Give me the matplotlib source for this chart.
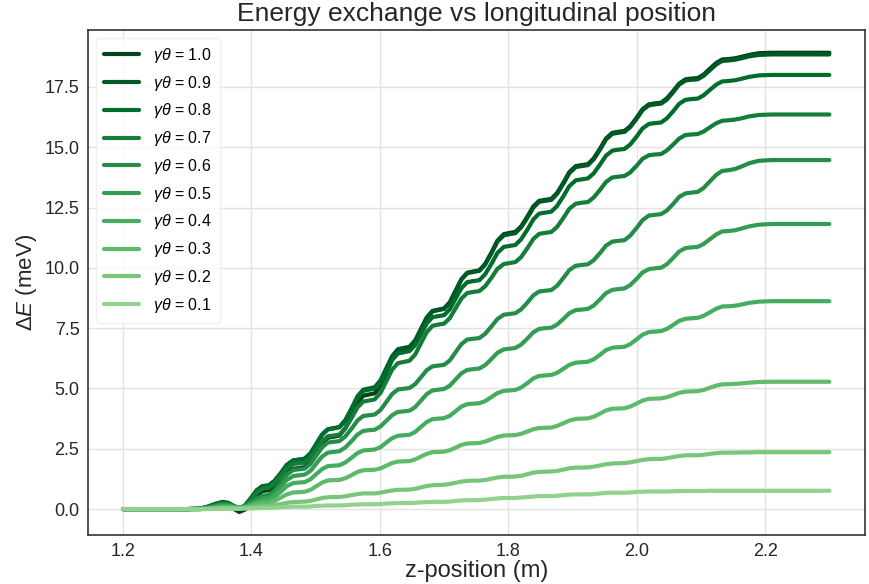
import numpy as np
import matplotlib
matplotlib.use("Agg")
from matplotlib import pyplot as plt

# longitudinal positions (m), shared by every curve
z = [1.200, 1.250, 1.300, 1.320, 1.332, 1.344, 1.355, 1.364, 1.373, 1.381, 1.390, 1.399, 1.408, 1.417,
     1.427, 1.436, 1.446, 1.455, 1.465, 1.474,
     1.483, 1.492, 1.501, 1.510, 1.519, 1.528,
     1.537, 1.546, 1.556, 1.565, 1.574, 1.583,
     1.592, 1.601, 1.610, 1.619, 1.628, 1.637,
     1.646, 1.655, 1.664, 1.673, 1.682, 1.691,
     1.700, 1.709, 1.718, 1.727, 1.736, 1.745,
     1.755, 1.764, 1.774, 1.783, 1.793, 1.802,
     1.811, 1.820, 1.830, 1.839, 1.848, 1.857,
     1.867, 1.876, 1.886, 1.895, 1.905, 1.914,
     1.924, 1.933, 1.943, 1.952, 1.962, 1.971,
     1.981, 1.990, 2.000, 2.009, 2.019, 2.028,
     2.038, 2.047, 2.057, 2.066, 2.076, 2.085,
     2.095, 2.104, 2.114, 2.124, 2.133, 2.143,
     2.153, 2.163, 2.175, 2.190, 2.210, 2.250, 2.300]

# energy exchange (meV) for each gamma*theta
dE_10 = [0, 0, 0, 0.0, 0.06, 0.16, 0.22, 0.17, 0.0, -0.12, -0.02, 0.25, 0.55, 0.75,
         0.78, 0.94, 1.23, 1.51, 1.67, 1.7,
         1.74, 1.96, 2.35, 2.74, 2.96, 3.0,
         3.05, 3.35, 3.88, 4.4, 4.70, 4.75,
         4.80, 5.11, 5.65, 6.19, 6.50, 6.55,
         6.60, 6.89, 7.40, 7.91, 8.20, 8.25,
         8.30, 8.57, 9.05, 9.53, 9.80, 9.85,
         9.90, 10.17, 10.65, 11.13, 11.40, 11.45,
         11.49, 11.72, 12.14, 12.55, 12.78, 12.82,
         12.86, 13.11, 13.54, 13.97, 14.22, 14.26,
         14.30, 14.54, 14.95, 15.36, 15.60, 15.64,
         15.68, 15.88, 16.23, 16.58, 16.78, 16.82,
         16.85, 17.03, 17.34, 17.64, 17.82, 17.85,
         17.87, 18.01, 18.26, 18.5, 18.64, 18.66,
         18.69, 18.75, 18.83, 18.9, 18.92, 18.92, 18.92]

dE_09 = [0, 0, 0, 0.02, 0.1, 0.22, 0.3, 0.26, 0.12, 0.0, 0.15, 0.45, 0.78, 0.95,
         0.98, 1.17, 1.5, 1.83, 2.02, 2.05,
         2.09, 2.31, 2.7, 3.09, 3.31, 3.35,
         3.4, 3.68, 4.18, 4.67, 4.95, 5.0,
         5.05, 5.34, 5.84, 6.34, 6.63, 6.68,
         6.73, 7.0, 7.48, 7.95, 8.22, 8.27,
         8.32, 8.58, 9.05, 9.52, 9.78, 9.83,
         9.88, 10.14, 10.62, 11.09, 11.35, 11.4,
         11.44, 11.68, 12.09, 12.5, 12.74, 12.78,
         12.82, 13.07, 13.5, 13.93, 14.18, 14.22,
         14.26, 14.5, 14.91, 15.32, 15.56, 15.6,
         15.64, 15.84, 16.19, 16.54, 16.74, 16.78,
         16.81, 16.98, 17.29, 17.6, 17.77, 17.8,
         17.82, 17.96, 18.2, 18.44, 18.58, 18.6,
         18.63, 18.69, 18.77, 18.83, 18.85, 18.85, 18.85]

dE_08 = [0, 0, 0, 0.02, 0.1, 0.21, 0.28, 0.24, 0.12, 0.02, 0.15, 0.45, 0.77, 0.95,
         0.98, 1.17, 1.5, 1.83, 2.02, 2.05,
         2.09, 2.31, 2.7, 3.09, 3.31, 3.35,
         3.4, 3.67, 4.15, 4.63, 4.9, 4.95,
         5.0, 5.26, 5.73, 6.19, 6.45, 6.5,
         6.55, 6.8, 7.25, 7.7, 7.96, 8.0,
         8.04, 8.29, 8.73, 9.16, 9.41, 9.45,
         9.49, 9.74, 10.18, 10.62, 10.87, 10.91,
         10.95, 11.19, 11.6, 12.01, 12.25, 12.29,
         12.33, 12.57, 12.98, 13.39, 13.63, 13.67,
         13.71, 13.92, 14.29, 14.65, 14.86, 14.9,
         14.93, 15.12, 15.45, 15.78, 15.97, 16.0,
         16.03, 16.2, 16.5, 16.8, 16.97, 17.0,
         17.02, 17.15, 17.38, 17.6, 17.73, 17.75,
         17.78, 17.84, 17.92, 17.98, 18.0, 18.0, 18.0]

dE_07 = [0, 0, 0, 0.02, 0.08, 0.18, 0.24, 0.21, 0.12, 0.04, 0.14, 0.4, 0.68, 0.85,
         0.88, 1.06, 1.38, 1.69, 1.87, 1.9,
         1.93, 2.13, 2.48, 2.82, 3.02, 3.05,
         3.09, 3.34, 3.78, 4.21, 4.46, 4.5,
         4.55, 4.82, 5.3, 5.78, 6.05, 6.1,
         6.15, 6.41, 6.88, 7.34, 7.6, 7.65,
         7.69, 7.92, 8.33, 8.73, 8.96, 9.0,
         9.04, 9.24, 9.6, 9.96, 10.16, 10.2,
         10.24, 10.45, 10.83, 11.2, 11.41, 11.45,
         11.49, 11.7, 12.08, 12.45, 12.66, 12.7,
         12.73, 12.92, 13.24, 13.56, 13.75, 13.78,
         13.81, 13.96, 14.24, 14.52, 14.67, 14.7,
         14.72, 14.87, 15.12, 15.36, 15.51, 15.53,
         15.55, 15.65, 15.83, 16.0, 16.1, 16.12,
         16.15, 16.2, 16.28, 16.34, 16.36, 16.36, 16.36]

dE_06 = [0, 0, 0, 0.01, 0.06, 0.14, 0.2, 0.18, 0.11, 0.05, 0.12, 0.28, 0.44, 0.55,
         0.58, 0.77, 1.1, 1.43, 1.62, 1.65,
         1.68, 1.88, 2.22, 2.56, 2.76, 2.79,
         2.82, 3.01, 3.34, 3.67, 3.86, 3.89,
         3.92, 4.11, 4.44, 4.77, 4.96, 4.99,
         5.02, 5.18, 5.47, 5.76, 5.92, 5.95,
         5.98, 6.17, 6.51, 6.84, 7.03, 7.06,
         7.09, 7.27, 7.58, 7.88, 8.06, 8.09,
         8.12, 8.28, 8.57, 8.86, 9.02, 9.05,
         9.08, 9.26, 9.59, 9.91, 10.09, 10.12,
         10.15, 10.32, 10.62, 10.92, 11.09, 11.12,
         11.15, 11.34, 11.66, 11.98, 12.17, 12.2,
         12.23, 12.38, 12.66, 12.94, 13.09, 13.12,
         13.15, 13.31, 13.59, 13.86, 14.02, 14.05,
         14.1, 14.2, 14.34, 14.44, 14.47, 14.47, 14.47]

dE_05 = [0, 0, 0, 0.01, 0.05, 0.11, 0.16, 0.15, 0.1, 0.05, 0.1, 0.22, 0.35, 0.45,
         0.48, 0.64, 0.93, 1.21, 1.37, 1.4,
         1.43, 1.59, 1.89, 2.18, 2.34, 2.37,
         2.4, 2.55, 2.82, 3.09, 3.24, 3.27,
         3.29, 3.43, 3.66, 3.89, 4.03, 4.05,
         4.08, 4.23, 4.5, 4.77, 4.92, 4.95,
         4.98, 5.12, 5.38, 5.63, 5.77, 5.8,
         5.83, 5.97, 6.23, 6.48, 6.62, 6.65,
         6.68, 6.82, 7.08, 7.33, 7.47, 7.5,
         7.52, 7.65, 7.89, 8.12, 8.25, 8.27,
         8.3, 8.44, 8.7, 8.95, 9.09, 9.12,
         9.15, 9.29, 9.55, 9.81, 9.95, 9.98,
         10.01, 10.15, 10.42, 10.68, 10.82, 10.85,
         10.87, 10.99, 11.19, 11.39, 11.51, 11.53,
         11.56, 11.63, 11.72, 11.79, 11.82, 11.82, 11.82]

dE_04 = [0, 0, 0, 0.01, 0.04, 0.08, 0.12, 0.11, 0.08, 0.05, 0.09, 0.17, 0.27, 0.35,
         0.37, 0.5, 0.73, 0.95, 1.08, 1.1,
         1.12, 1.24, 1.45, 1.66, 1.78, 1.8,
         1.82, 1.93, 2.13, 2.32, 2.43, 2.45,
         2.47, 2.57, 2.76, 2.94, 3.04, 3.06,
         3.08, 3.2, 3.41, 3.61, 3.73, 3.75,
         3.77, 3.87, 4.06, 4.25, 4.35, 4.37,
         4.39, 4.48, 4.65, 4.81, 4.9, 4.92,
         4.94, 5.04, 5.23, 5.42, 5.52, 5.54,
         5.56, 5.65, 5.82, 5.98, 6.07, 6.09,
         6.11, 6.21, 6.4, 6.59, 6.69, 6.71,
         6.73, 6.84, 7.04, 7.23, 7.34, 7.36,
         7.38, 7.47, 7.64, 7.8, 7.89, 7.91,
         7.93, 8.01, 8.16, 8.31, 8.4, 8.41,
         8.43, 8.48, 8.55, 8.6, 8.62, 8.62, 8.62]

dE_03 = [0, 0, 0, 0.0, 0.02, 0.05, 0.08, 0.08, 0.06, 0.04, 0.07, 0.12, 0.19, 0.25,
         0.26, 0.34, 0.48, 0.61, 0.69, 0.7,
         0.72, 0.8, 0.95, 1.1, 1.19, 1.2,
         1.21, 1.28, 1.41, 1.54, 1.61, 1.62,
         1.63, 1.69, 1.8, 1.91, 1.97, 1.98,
         1.99, 2.06, 2.18, 2.29, 2.36, 2.37,
         2.38, 2.44, 2.55, 2.66, 2.72, 2.73,
         2.74, 2.8, 2.9, 2.99, 3.05, 3.06,
         3.07, 3.12, 3.22, 3.31, 3.36, 3.37,
         3.38, 3.45, 3.56, 3.67, 3.74, 3.75,
         3.76, 3.83, 3.96, 4.09, 4.16, 4.17,
         4.18, 4.25, 4.38, 4.5, 4.57, 4.58,
         4.59, 4.64, 4.73, 4.82, 4.87, 4.88,
         4.89, 4.94, 5.03, 5.12, 5.17, 5.18,
         5.19, 5.21, 5.24, 5.27, 5.28, 5.28, 5.28]

dE_02 = [0, 0, 0, 0.0, 0.01, 0.02, 0.04, 0.04, 0.04, 0.03, 0.05, 0.07, 0.1, 0.12,
         0.13, 0.16, 0.21, 0.26, 0.29, 0.3,
         0.31, 0.34, 0.4, 0.46, 0.49, 0.5,
         0.5, 0.53, 0.58, 0.62, 0.65, 0.65,
         0.65, 0.68, 0.73, 0.77, 0.8, 0.8,
         0.81, 0.84, 0.9, 0.96, 0.99, 1.0,
         1.01, 1.04, 1.09, 1.14, 1.17, 1.18,
         1.18, 1.21, 1.26, 1.31, 1.34, 1.34,
         1.35, 1.38, 1.45, 1.51, 1.54, 1.55,
         1.56, 1.58, 1.64, 1.69, 1.72, 1.72,
         1.73, 1.76, 1.81, 1.86, 1.89, 1.9,
         1.91, 1.94, 1.99, 2.04, 2.07, 2.08,
         2.08, 2.11, 2.16, 2.2, 2.23, 2.23,
         2.23, 2.25, 2.29, 2.32, 2.34, 2.34,
         2.34, 2.35, 2.35, 2.36, 2.36, 2.36, 2.36]

dE_01 = [0, 0, 0, 0, 0.0, 0.01, 0.01, 0.01, 0.01, 0.01, 0.02, 0.03, 0.04, 0.05,
         0.05, 0.06, 0.08, 0.09, 0.1, 0.1,
         0.1, 0.11, 0.13, 0.14, 0.15, 0.15,
         0.15, 0.16, 0.18, 0.19, 0.2, 0.2,
         0.2, 0.21, 0.23, 0.24, 0.25, 0.25,
         0.25, 0.26, 0.28, 0.29, 0.3, 0.3,
         0.3, 0.31, 0.34, 0.36, 0.37, 0.37,
         0.37, 0.39, 0.42, 0.44, 0.46, 0.46,
         0.46, 0.48, 0.5, 0.52, 0.54, 0.54,
         0.54, 0.55, 0.58, 0.6, 0.61, 0.61,
         0.61, 0.62, 0.65, 0.67, 0.68, 0.68,
         0.68, 0.69, 0.71, 0.72, 0.73, 0.73,
         0.73, 0.73, 0.74, 0.75, 0.75, 0.75,
         0.75, 0.75, 0.76, 0.76, 0.76, 0.76,
         0.76, 0.76, 0.76, 0.76, 0.76, 0.76, 0.76]

gamma_theta = [1.0, 0.9, 0.8, 0.7, 0.6, 0.5, 0.4, 0.3, 0.2, 0.1]
curves = [dE_10, dE_09, dE_08, dE_07, dE_06, dE_05, dE_04, dE_03, dE_02, dE_01]

plt.rcParams["font.family"] = ["Liberation Sans", "DejaVu Sans"]
plt.rcParams["mathtext.fontset"] = "custom"
plt.rcParams["mathtext.rm"] = "Liberation Sans"
plt.rcParams["mathtext.it"] = "Liberation Sans:italic"

fig = plt.figure(figsize=(8.69, 5.84), dpi=100)
ax = fig.add_axes([0.101, 0.084, 0.894, 0.865])

colors = plt.cm.Greens(np.linspace(1.0, 0.42, len(gamma_theta)))
for gt, dE, c in zip(gamma_theta, curves, colors):
    ax.plot(z, dE, color=c, lw=3, solid_capstyle="round", solid_joinstyle="round",
            label=r"$\gamma\theta$ = %.1f" % gt)

ax.grid(True, color="#e3e3e3", lw=1)
ax.set_axisbelow(True)
for s in ax.spines.values():
    s.set_color("#333333")
    s.set_linewidth(1.2)
ax.tick_params(length=0, labelsize=13, colors="#262626", pad=6)
ax.set_yticks([0, 2.5, 5, 7.5, 10, 12.5, 15, 17.5])

ax.set_title("Energy exchange vs longitudinal position", fontsize=19, color="#262626")
ax.set_xlabel("z-position (m)", fontsize=17, color="#262626", labelpad=0)
ax.set_ylabel(r"$\Delta E$ (meV)", fontsize=16, color="#262626")

leg = ax.legend(loc="upper left", fontsize=11.5, handlelength=2.2, labelspacing=0.55,
                handletextpad=0.9, borderpad=0.5,
                frameon=True, framealpha=0.8, edgecolor="#eeeeee")

fig.savefig("out.png", dpi=100)
